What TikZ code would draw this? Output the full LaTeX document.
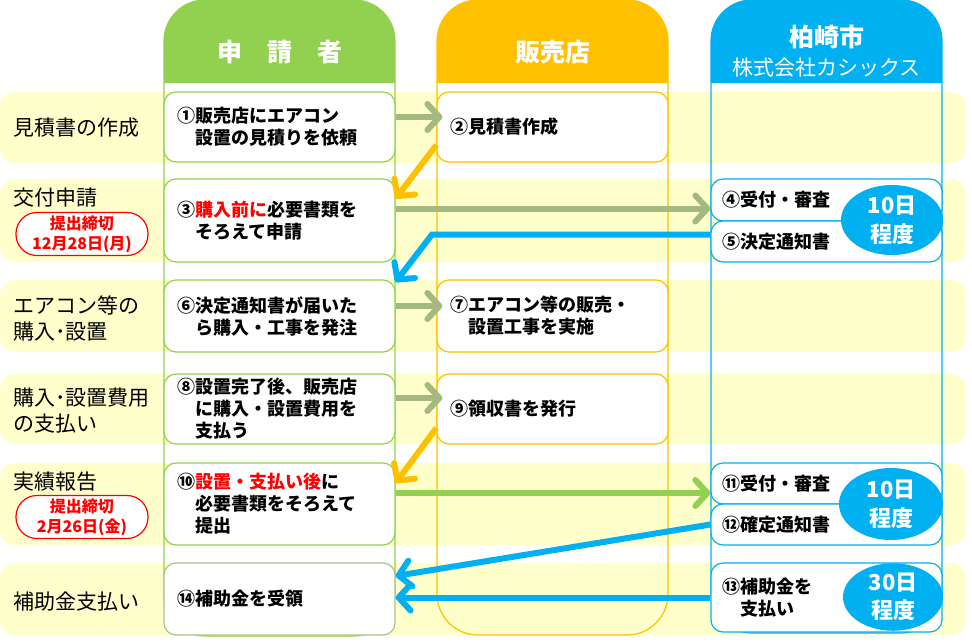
\documentclass[tikz,border=0pt]{standalone}
\usepackage{fontspec}
\setmainfont{Noto Sans CJK JP}
\usetikzlibrary{arrows.meta,shapes.geometric}
\definecolor{cgreen}{HTML}{92D050}
\definecolor{corange}{HTML}{FFC000}
\definecolor{cblue}{HTML}{00B0F0}
\definecolor{cyellow}{HTML}{FFFFCC}
\definecolor{cgray}{HTML}{A4B97F}
\definecolor{cred}{HTML}{FF0000}
\definecolor{cgreenbox}{HTML}{A9C38B}
\newcommand{\cnum}[1]{\makebox[18pt][l]{#1}}
\begin{document}
\begin{tikzpicture}[x=1pt,y=-1pt,
  band/.style={fill=cyellow, rounded corners=15pt},
  colline/.style={line width=1.2pt, rounded corners=41pt},
  htext/.style={text=white, font=\bfseries\fontsize{25}{28}\selectfont, inner sep=0pt},
  box/.style={fill=white, line width=1.2pt, rounded corners=12pt, text width=205pt, inner xsep=13pt, inner ysep=0pt, align=left, font=\bfseries\fontsize{18}{22}\selectfont},
  gbox/.style={box, draw=cgreen},
  obox/.style={box, draw=corange},
  bbox/.style={box, draw=cblue, text width=209pt, inner xsep=11pt},
  ell/.style={ellipse, fill=cblue, inner sep=0pt, text=white, align=center, font=\bfseries\fontsize{22}{29}\selectfont},
  lab/.style={anchor=west, align=left, inner sep=0pt, font=\fontsize{21}{26}\selectfont},
  tag/.style={draw=cred, fill=white, line width=1.2pt, rounded corners=21pt, minimum width=132pt, minimum height=43pt, inner sep=0pt, align=center, text=cred, font=\bfseries\fontsize{16}{20}\selectfont},
  arr/.style={line width=6pt, -{Straight Barb[length=12pt,width=26pt,round]}},
  garr/.style={arr, draw=cgray},
  oarr/.style={arr, draw=corange},
  barr/.style={arr, draw=cblue},
  lgarr/.style={arr, draw=cgreen}
]
\fill[white] (0,0) rectangle (972,643);
\useasboundingbox (0,0) rectangle (972,643);

% row bands
\fill[band] (0,92) rectangle (966,163);
\fill[band] (0,179) rectangle (966,262);
\fill[band] (0,280) rectangle (966,352);
\fill[band] (0,374) rectangle (966,444);
\fill[band] (0,463) rectangle (966,545);
\fill[band] (0,563) rectangle (966,635);

% columns
\fill[cgreen] (164,83) [rounded corners=41pt] -- (164,0) -- (395,0) [sharp corners] -- (395,83) -- cycle;
\draw[colline, cgreen] (164,0) rectangle (395,636);
\fill[corange] (437,83) [rounded corners=41pt] -- (437,0) -- (668,0) [sharp corners] -- (668,83) -- cycle;
\draw[colline, corange] (437,0) rectangle (668,635);
\fill[cblue] (711,83) [rounded corners=41pt] -- (711,0) -- (942,0) [sharp corners] -- (942,83) -- cycle;
\draw[colline, cblue] (711,0) rectangle (942,633);

\node[htext] (hA) at (279.5,52) {申　請　者};
\node[htext] (hB) at (552.5,52) {販売店};
\node[htext] (hC) at (826.5,37) {柏崎市};
\node[text=white, inner sep=0pt, font=\fontsize{21}{24}\selectfont] (hC2) at (826.5,68) {株式会社カシックス};

% row labels
\node[lab] (l1) at (13,128) {見積書の作成};
\node[lab] (l2) at (13,198) {交付申請};
\node[lab] (l3) at (13,318) {エアコン等の\\購入･設置};
\node[lab] (l4) at (13,411) {購入･設置費用\\の支払い};
\node[lab] (l5) at (13,482) {実績報告};
\node[lab] (l6) at (13,602) {補助金支払い};
\node[tag] (t1) at (82,234) {提出締切\\12月28日(月)};
\node[tag] (t2) at (82,517) {提出締切\\2月26日(金)};

% boxes
\node[gbox, minimum height=70pt] (b1) at (279.5,127) {\cnum{①}販売店にエアコン\\\cnum{}設置の見積りを依頼};
\node[obox, minimum height=70pt] (b2) at (552.5,127) {\cnum{②}見積書作成};
\node[gbox, minimum height=83pt] (b3) at (279.5,220.5) {\cnum{③}\textcolor{cred}{購入前に}必要書類を\\\cnum{}そろえて申請};
\node[bbox, minimum height=42pt] (b4) at (826.5,200) {\cnum{④}受付・審査};
\node[bbox, minimum height=41pt] (b5) at (826.5,241.5) {\cnum{⑤}決定通知書};
\node[gbox, minimum height=72pt] (b6) at (279.5,316) {\cnum{⑥}決定通知書が届いた\\\cnum{}ら購入・工事を発注};
\node[obox, minimum height=72pt] (b7) at (552.5,316) {\cnum{⑦}エアコン等の販売・\\\cnum{}設置工事を実施};
\node[gbox, minimum height=70pt] (b8) at (279.5,409) {\cnum{⑧}設置完了後、販売店\\\cnum{}に購入・設置費用を\\\cnum{}支払う};
\node[obox, minimum height=70pt] (b9) at (552.5,409) {\cnum{⑨}領収書を発行};
\node[gbox, minimum height=82pt] (b10) at (279.5,504) {\cnum{⑩}\textcolor{cred}{設置・支払い後}に\\\cnum{}必要書類をそろえて\\\cnum{}提出};
\node[bbox, minimum height=41pt] (b11) at (826.5,483.5) {\cnum{⑪}受付・審査};
\node[bbox, minimum height=41pt] (b12) at (826.5,524.5) {\cnum{⑫}確定通知書};
\node[bbox, minimum height=69pt] (b13) at (826.5,597.5) {\cnum{⑬}補助金を\\\cnum{}支払い};
\node[box, draw=cgreenbox, minimum height=72pt] (b14) at (279.5,599) {\cnum{⑭}補助金を受領};

% ellipses
\node[ell, minimum width=102pt, minimum height=70pt] (e1) at (892,220) {10日\\程度};
\node[ell, minimum width=104pt, minimum height=72pt] (e2) at (891,504) {10日\\程度};
\node[ell, minimum width=100pt, minimum height=66pt, font=\bfseries\fontsize{22}{28}\selectfont] (e3) at (893,597) {30日\\程度};

% connectors
\coordinate (k1) at (432,0);
\draw[garr] ([yshift=10pt]b1.east) -- ([yshift=10pt,xshift=6pt]b2.west);
\draw[oarr] ([yshift=-18pt]b2.west) -- ([yshift=22pt]b3.east);
\draw[garr] ([yshift=12pt]b3.east) coordinate (a3) -- (a3 -| b4.west);
\draw[barr] ([yshift=7pt]b5.west) coordinate (s5) -- (s5 -| k1) -- ([yshift=34pt]b6.east);
\draw[garr] ([yshift=10pt]b6.east) -- ([yshift=10pt,xshift=6pt]b7.west);
\draw[garr] ([yshift=11pt]b8.east) -- ([yshift=11pt,xshift=6pt]b9.west);
\draw[oarr] ([yshift=-19pt]b9.west) -- ([yshift=21pt]b10.east);
\draw[lgarr] ([yshift=11pt]b10.east) coordinate (a10) -- (a10 -| b11.west);
\draw[barr] (b12.west) -- ([yshift=23pt]b14.east);
\draw[barr] (b13.west) coordinate (s13) -- (s13 -| b14.east);
\end{tikzpicture}
\end{document}
